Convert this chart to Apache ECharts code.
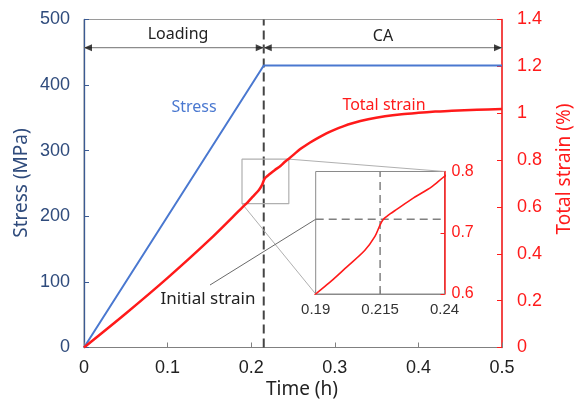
<!DOCTYPE html>
<html>
<head>
<meta charset="utf-8">
<script src="https://cdn.jsdelivr.net/npm/echarts@6/dist/echarts.min.js"></script>
<style>
  html, body { margin: 0; padding: 0; background: #fff; }
  #chart { width: 581px; height: 409px; }
</style>
</head>
<body>
<div id="chart"></div>
<script>
// Stress history: linear loading, then constant-stress hold (CA)
const STRESS_T = [0, 0.215, 0.5];
const STRESS = [0, 430, 430];

// Total strain (%) over time (h)
const STRAIN_T = [0, 0.05, 0.1, 0.15, 0.19, 0.196, 0.202, 0.209, 0.213, 0.215, 0.2162, 0.2175, 0.219, 0.221,
                  0.228, 0.235, 0.24, 0.245, 0.26, 0.27, 0.28, 0.29, 0.3, 0.31, 0.32, 0.34, 0.36, 0.38, 0.4,
                  0.42, 0.44, 0.47, 0.5];
const STRAIN = [0, 0.145, 0.297, 0.459, 0.6, 0.621, 0.644, 0.671, 0.694, 0.713, 0.7215, 0.7265, 0.7312, 0.737,
                0.757, 0.775, 0.792, 0.806, 0.85, 0.874, 0.895, 0.914, 0.93, 0.944, 0.956, 0.974, 0.987, 0.996, 1.002,
                1.007, 1.011, 1.015, 1.018];

// End of loading and the strain reached there
const LOAD_END = 0.215;
const INIT_STRAIN = 0.722;

// Phase arrows drawn at this stress level
const PHASE_LEVEL = 457;
const PHASES = [
  { name: 'Loading', from: 0, to: 0.215 },
  { name: 'CA', from: 0.215, to: 0.5 }
];

// Zoom window marked on the main plot (time, strain)
const ZOOM_T = [0.189, 0.245];
const ZOOM_S = [0.614, 0.804];

// Axis ranges and ticks
const STRESS_RANGE = [0, 500];
const INSET_X_TICKS = [0.19, 0.215, 0.24];
const INSET_X_RANGE = [0.19, 0.24];
const INSET_Y_RANGE = [0.6, 0.8];

const BLUE = '#4a78d0';
const BLUE_AXIS = '#2f4b7c';
const RED = '#ff1a1a';
const NUM_FONT = 'Liberation Sans';
const TXT_FONT = 'Noto Sans';

const stressData = STRESS_T.map((t, i) => [t, STRESS[i]]);
const strainData = STRAIN_T.map((t, i) => [t, STRAIN[i]]);
const zoomBox = [
  [ZOOM_T[0], ZOOM_S[0]], [ZOOM_T[1], ZOOM_S[0]], [ZOOM_T[1], ZOOM_S[1]],
  [ZOOM_T[0], ZOOM_S[1]], [ZOOM_T[0], ZOOM_S[0]]
];
const arrowR = 'path://M0,0L10,5L0,10Z';
const arrowL = 'path://M10,0L0,5L10,10Z';

const chart = echarts.init(document.getElementById('chart'), null, { renderer: 'canvas' });

const phaseSeries = [];
PHASES.forEach(p => {
  phaseSeries.push({
    type: 'line', xAxisIndex: 0, yAxisIndex: 0, symbol: 'none', silent: true,
    data: [[p.from, PHASE_LEVEL], [p.to, PHASE_LEVEL]],
    lineStyle: { color: '#8c8c8c', width: 1.3 }, z: 3
  });
  phaseSeries.push({
    type: 'scatter', xAxisIndex: 0, yAxisIndex: 0, silent: true,
    data: [[p.to, PHASE_LEVEL]], symbol: arrowR, symbolSize: [8, 7], symbolOffset: [-4, 0],
    itemStyle: { color: '#111' }, z: 4
  });
  phaseSeries.push({
    type: 'scatter', xAxisIndex: 0, yAxisIndex: 0, silent: true,
    data: [[p.from, PHASE_LEVEL]], symbol: arrowL, symbolSize: [8, 7], symbolOffset: [4, 0],
    itemStyle: { color: '#111' }, z: 4
  });
});

chart.setOption({
  animation: false,
  backgroundColor: '#fff',
  grid: [
    { left: 84, right: 79, top: 19.5, bottom: 61.5, show: true, borderColor: '#9a9a9a', borderWidth: 1,
      containLabel: false, outerBoundsMode: 'none' },
    { left: 315.7, top: 171.5, width: 128.8, height: 122.5, show: true, borderColor: '#8a8a8a', borderWidth: 1,
      containLabel: false, outerBoundsMode: 'none' }
  ],
  xAxis: [
    {
      gridIndex: 0, type: 'value', min: 0, max: 0.5, interval: 0.1,
      axisLine: { show: true, lineStyle: { color: '#808080', width: 1.2 } },
      axisTick: { show: true, inside: true, length: 5, lineStyle: { color: '#808080' } },
      axisLabel: { color: '#222', fontSize: 18, fontFamily: NUM_FONT, margin: 12 },
      splitLine: { show: false }
    },
    {
      gridIndex: 1, type: 'value', min: INSET_X_RANGE[0], max: INSET_X_RANGE[1], interval: 0.005,
      axisLine: { show: true, lineStyle: { color: '#8a8a8a', width: 1.2 } },
      axisTick: { show: true, inside: true, length: 4, customValues: INSET_X_TICKS, lineStyle: { color: '#8a8a8a' } },
      axisLabel: { color: '#333', fontSize: 15, fontFamily: NUM_FONT, margin: 8, customValues: INSET_X_TICKS },
      splitLine: { show: false }
    }
  ],
  yAxis: [
    {
      gridIndex: 0, type: 'value', min: STRESS_RANGE[0], max: STRESS_RANGE[1], interval: 100, position: 'left',
      axisLine: { show: true, lineStyle: { color: '#3b5a92', width: 1.3 } },
      axisTick: { show: true, inside: true, length: 5, lineStyle: { color: '#3b5a92' } },
      axisLabel: { color: BLUE_AXIS, fontSize: 18, fontFamily: NUM_FONT, margin: 14 },
      splitLine: { show: false }
    },
    {
      gridIndex: 0, type: 'value', min: 0, max: 1.4, interval: 0.2, position: 'right',
      axisLine: { show: true, lineStyle: { color: RED, width: 1.5 } },
      axisTick: { show: true, inside: true, length: 5, lineStyle: { color: RED } },
      axisLabel: { color: RED, fontSize: 18, fontFamily: NUM_FONT, margin: 15 },
      splitLine: { show: false }
    },
    {
      gridIndex: 1, type: 'value', min: INSET_Y_RANGE[0], max: INSET_Y_RANGE[1], interval: 0.1, position: 'right',
      axisLine: { show: true, lineStyle: { color: RED, width: 1.5 } },
      axisTick: { show: true, inside: true, length: 4, lineStyle: { color: RED } },
      axisLabel: { color: RED, fontSize: 16, fontFamily: NUM_FONT, margin: 7 },
      splitLine: { show: false }
    }
  ],
  series: [
    {
      name: 'end of loading', type: 'line', xAxisIndex: 0, yAxisIndex: 0, symbol: 'none', silent: true,
      data: [[LOAD_END, STRESS_RANGE[0]], [LOAD_END, STRESS_RANGE[1]]],
      lineStyle: { color: '#444', width: 2, type: [9, 5] }, z: 2
    },
    {
      name: 'Stress', type: 'line', xAxisIndex: 0, yAxisIndex: 0, symbol: 'none',
      data: stressData, lineStyle: { color: BLUE, width: 2 }, z: 5
    },
    {
      name: 'Total strain', type: 'line', xAxisIndex: 0, yAxisIndex: 1, symbol: 'none', smooth: 0.3,
      data: strainData, lineStyle: { color: RED, width: 2.5, join: 'round' }, z: 6
    },
    {
      name: 'zoom window', type: 'line', xAxisIndex: 0, yAxisIndex: 1, symbol: 'none', silent: true,
      data: zoomBox, lineStyle: { color: '#b0b0b0', width: 1.2 }, z: 4
    },
    {
      name: 'detail: end of loading', type: 'line', xAxisIndex: 1, yAxisIndex: 2, symbol: 'none', silent: true,
      data: [[LOAD_END, INSET_Y_RANGE[0]], [LOAD_END, INSET_Y_RANGE[1]]],
      lineStyle: { color: '#808080', width: 1.5, type: [8, 5] }, z: 2
    },
    {
      name: 'detail: initial strain', type: 'line', xAxisIndex: 1, yAxisIndex: 2, symbol: 'none', silent: true,
      data: [[INSET_X_RANGE[0], INIT_STRAIN], [INSET_X_RANGE[1], INIT_STRAIN]],
      lineStyle: { color: '#808080', width: 1.5, type: [8, 5] }, z: 2
    },
    {
      name: 'Total strain (detail)', type: 'line', xAxisIndex: 1, yAxisIndex: 2, symbol: 'none', clip: true,
      smooth: 0.3,
      data: strainData, lineStyle: { color: RED, width: 1.6, join: 'round' }, z: 6
    }
  ].concat(phaseSeries)
});

// Pixel positions for connectors are taken from the axes
const mainPx = (t, s) => chart.convertToPixel({ seriesIndex: 3 }, [t, s]);
const insetPx = (t, s) => chart.convertToPixel({ seriesIndex: 6 }, [t, s]);

const boxTR = mainPx(ZOOM_T[1], ZOOM_S[1]);
const boxBL = mainPx(ZOOM_T[0], ZOOM_S[0]);
const inTR = insetPx(INSET_X_RANGE[1], INSET_Y_RANGE[1]);
const inBL = insetPx(INSET_X_RANGE[0], INSET_Y_RANGE[0]);
const inMark = insetPx(INSET_X_RANGE[0], INIT_STRAIN);

const txt = (x, y, text, color, size, rot) => ({
  type: 'text', x: x, y: y, rotation: rot || 0, silent: true, z: 20,
  style: { text: text, fill: color, font: size + 'px "' + TXT_FONT + '"', align: 'center', verticalAlign: 'middle' }
});

chart.setOption({
  graphic: [
    { type: 'line', silent: true, z: 3, shape: { x1: boxTR[0], y1: boxTR[1], x2: inTR[0], y2: inTR[1] },
      style: { stroke: '#b0b0b0', lineWidth: 1 } },
    { type: 'line', silent: true, z: 3, shape: { x1: boxBL[0], y1: boxBL[1], x2: inBL[0], y2: inBL[1] },
      style: { stroke: '#b0b0b0', lineWidth: 1 } },
    { type: 'line', silent: true, z: 3, shape: { x1: 210, y1: 285, x2: inMark[0], y2: inMark[1] },
      style: { stroke: '#6a6a6a', lineWidth: 1 } },
    txt(178, 34, PHASES[0].name, '#222', 16),
    txt(383, 36, PHASES[1].name, '#222', 16),
    txt(194, 107, 'Stress', BLUE, 16),
    txt(384, 105, 'Total strain', RED, 16),
    txt(208, 299, 'Initial strain', '#222', 17),
    txt(302, 390, 'Time (h)', '#222', 19),
    txt(22, 183, 'Stress (MPa)', BLUE_AXIS, 19, Math.PI / 2),
    txt(565, 169, 'Total strain (%)', RED, 19, Math.PI / 2)
  ]
});
</script>
</body>
</html>
